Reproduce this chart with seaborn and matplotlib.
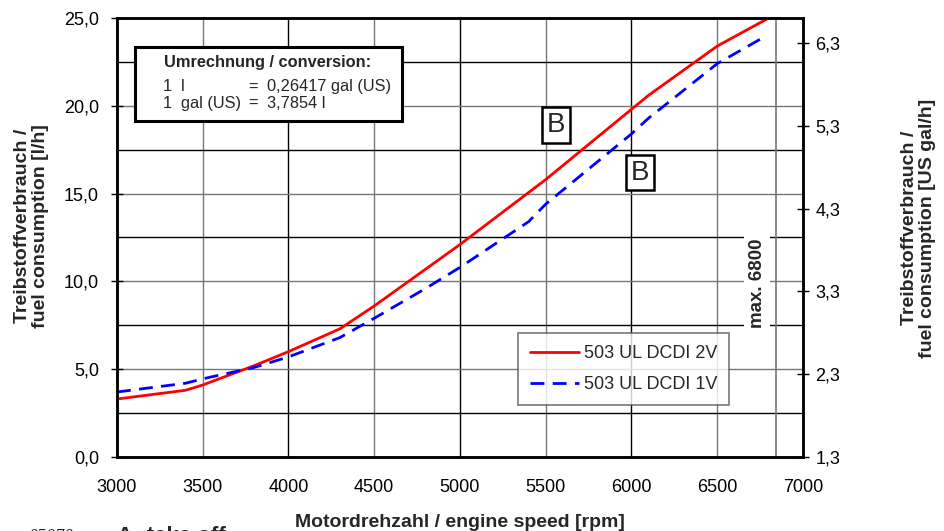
import numpy as np
import pandas as pd
import matplotlib
matplotlib.use("Agg")
import matplotlib.pyplot as plt
import seaborn as sns
from matplotlib.patches import Rectangle
from matplotlib.ticker import FuncFormatter

# Data
rpm_2v = [3000, 3200, 3400, 3500, 3800, 4000, 4300, 4500, 4700, 5000, 5500, 5750, 6000, 6100, 6500, 6800]
fuel_2v = [3.3, 3.55, 3.8, 4.1, 5.2, 6.0, 7.3, 8.6, 10.0, 12.1, 15.8, 17.8, 19.8, 20.6, 23.4, 25.0]
rpm_1v = [3000, 3400, 3500, 3800, 4000, 4300, 4500, 4800, 5000, 5200, 5400, 5500, 5750, 6000, 6100, 6500, 6770]
fuel_1v = [3.7, 4.2, 4.45, 5.1, 5.7, 6.8, 7.9, 9.6, 10.8, 12.1, 13.4, 14.4, 16.4, 18.4, 19.3, 22.4, 23.9]
series_names = ["503 UL DCDI 2V", "503 UL DCDI 1V"]

df = pd.concat([
    pd.DataFrame({"rpm": rpm_2v, "fuel": fuel_2v, "engine": series_names[0]}),
    pd.DataFrame({"rpm": rpm_1v, "fuel": fuel_1v, "engine": series_names[1]}),
])

x_ticks = [3000, 3500, 4000, 4500, 5000, 5500, 6000, 6500, 7000]
y_ticks = [0, 5, 10, 15, 20, 25]
gal_ticks = [1.3, 2.3, 3.3, 4.3, 5.3, 6.3]

sns.set_style("white")
plt.rcParams["font.family"] = ["Liberation Sans", "DejaVu Sans"]

fig = plt.figure(figsize=(9.45, 5.31), dpi=100)
ax = fig.add_axes([0.1238, 0.1394, 0.7259, 0.8267])

# grid
for xv in np.arange(3500, 7000, 500):
    ax.axvline(xv, color="black" if xv % 1000 == 0 else "#777777", lw=1.0, zorder=0)
for yv in np.arange(2.5, 25, 2.5):
    ax.axhline(yv, color="black" if yv % 5 else "#777777", lw=1.0, zorder=0)
ax.axvline(6840, color="#777777", lw=1.2, zorder=0)

sns.lineplot(data=df, x="rpm", y="fuel", hue="engine", style="engine",
             palette={series_names[0]: "#ff0000", series_names[1]: "#0000ff"},
             dashes={series_names[0]: "", series_names[1]: (5, 3)},
             linewidth=2, ax=ax, zorder=3, sort=False)

ax.set_xlim(3000, 7000)
ax.set_ylim(0, 25)
ax.set_xticks(x_ticks)
ax.set_yticks(y_ticks)
ax.yaxis.set_major_formatter(FuncFormatter(lambda v, p: f"{v:.1f}".replace(".", ",")))
ax.tick_params(direction="inout", length=8, width=1, labelsize=13, colors="black")
ax.tick_params(axis="x", pad=12)
ax.tick_params(axis="y", pad=9)
for s in ax.spines.values():
    s.set_color("black")
    s.set_linewidth(1.8)
ax.set_xlabel("")
ax.set_ylabel("")

# right axis in US gal/h
ax2 = ax.twinx()
ax2.set_ylim(1.3, 6.6)
ax2.set_yticks(gal_ticks)
ax2.yaxis.set_major_formatter(FuncFormatter(lambda v, p: f"{v:.1f}".replace(".", ",")))
ax2.tick_params(direction="inout", length=8, width=1, labelsize=13, colors="black", pad=5)
for s in ax2.spines.values():
    s.set_color("black")
    s.set_linewidth(1.8)

leg = ax.legend(loc="upper left", bbox_to_anchor=(0.585, 0.282), fontsize=13,
                frameon=True, fancybox=False, edgecolor="#555555", borderaxespad=0,
                handlelength=2.7, borderpad=0.65, labelspacing=0.8, handletextpad=0.3)
leg.get_frame().set_linewidth(1.2)
leg.set_zorder(5)

# conversion box
ax.add_patch(Rectangle((0.026, 0.765), 0.389, 0.169, transform=ax.transAxes,
                       facecolor="white", edgecolor="black", lw=2.2, zorder=6))
ax.text(0.22, 0.899, "Umrechnung / conversion:", transform=ax.transAxes, fontsize=11.8,
        fontweight="bold", ha="center", va="center", zorder=7)
ax.text(0.067, 0.843, "1  l", transform=ax.transAxes, fontsize=11.8, va="center", zorder=7)
ax.text(0.067, 0.805, "1  gal (US)", transform=ax.transAxes, fontsize=11.8, va="center", zorder=7)
ax.text(0.192, 0.843, "=", transform=ax.transAxes, fontsize=11.8, va="center", zorder=7)
ax.text(0.192, 0.805, "=", transform=ax.transAxes, fontsize=11.8, va="center", zorder=7)
ax.text(0.219, 0.843, "0,26417 gal (US)", transform=ax.transAxes, fontsize=11.8, va="center", zorder=7)
ax.text(0.219, 0.805, "3,7854 l", transform=ax.transAxes, fontsize=11.8, va="center", zorder=7)

# B markers
for bx, by in [(5560, 18.9), (6050, 16.2)]:
    ax.text(bx, by, "B", fontsize=20, ha="center", va="center", zorder=7,
            bbox=dict(boxstyle="square,pad=0.17", facecolor="white", edgecolor="black", lw=1.8))

ax.text(6732, 9.9, "max. 6800", rotation=90, fontsize=13.5, fontweight="bold",
        ha="center", va="center", zorder=4,
        bbox=dict(boxstyle="square,pad=0.25", facecolor="white", edgecolor="none"))

# axis titles
fig.text(0.033, 0.574, "Treibstoffverbrauch /\nfuel consumption [l/h]", rotation=90,
         fontsize=14, fontweight="bold", ha="center", va="center", multialignment="center",
         linespacing=1.1)
fig.text(0.972, 0.57, "Treibstoffverbrauch /\nfuel consumption [US gal/h]", rotation=90,
         fontsize=14, fontweight="bold", ha="center", va="center", multialignment="center",
         linespacing=1.1)
fig.text(0.487, 0.016, "Motordrehzahl / engine speed [rpm]", fontsize=14,
         fontweight="bold", ha="center", va="center")

# footer, cut off at bottom edge as in the source
fig.text(0.03, 0.004, "05070", fontsize=13, style="italic", family=["Liberation Serif"],
         ha="left", va="top")
fig.text(0.124, 0.01, "A: take off", fontsize=16, fontweight="bold", ha="left", va="top")

fig.savefig("out.png", dpi=100)
